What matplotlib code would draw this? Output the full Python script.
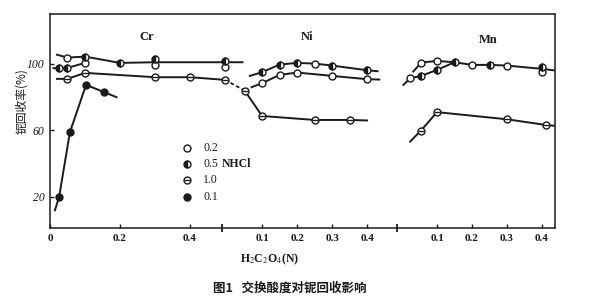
"""
图1 交换酸度对铌回收影响 — 三段拼接横轴 (Cr / Ni / Mn)。
"""

import matplotlib
matplotlib.use('Agg')
import matplotlib.pyplot as plt

plt.rcParams['font.family'] = ['Liberation Serif', 'Noto Sans CJK SC']
plt.rcParams['mathtext.fontset'] = 'stix'

INK = '#1a1a1a'

# décalage de chaque panneau sur l'axe commun
OFFSETS = {'Cr': 0.0, 'Ni': 0.506, 'Mn': 1.006}
PANELS = ['Cr', 'Ni', 'Mn']
TICK_VALUES = {'Cr': [0.0, 0.2, 0.4], 'Ni': [0.1, 0.2, 0.3, 0.4], 'Mn': [0.1, 0.2, 0.3, 0.4]}
TICK_LABELS = {'Cr': ['0', '0.2', '0.4'], 'Ni': ['0.1', '0.2', '0.3', '0.4'],
               'Mn': ['0.1', '0.2', '0.3', '0.4']}
Y_TICKS = [20, 60, 100]

# ---- courbes (tracés) ----
cr_top_x = [0.02, 0.05, 0.10, 0.20, 0.30, 0.50, 0.55]
cr_top_y = [105.5, 103.8, 104.4, 100.6, 101.0, 101.0, 101.0]
cr_low_x = [0.01, 0.026, 0.05, 0.10]
cr_low_y = [97.4, 97.6, 97.6, 100.6]
cr_10_x = [0.02, 0.05, 0.10, 0.30, 0.40, 0.50]
cr_10_y = [91.0, 91.0, 94.6, 92.0, 92.0, 90.4]
cr_01_x = [0.014, 0.026, 0.057, 0.103, 0.155, 0.19]
cr_01_y = [12.0, 20.0, 59.0, 87.4, 83.0, 80.0]

ni_top_x = [0.065, 0.10, 0.15, 0.20, 0.25, 0.30, 0.40, 0.43]
ni_top_y = [92.8, 95.0, 99.6, 100.6, 100.2, 99.0, 96.2, 95.6]
ni_02_x = [0.07, 0.10, 0.15, 0.20, 0.30, 0.40, 0.435]
ni_02_y = [86.0, 88.4, 93.4, 94.8, 92.8, 90.8, 90.6]
ni_10_x = [0.05, 0.10, 0.25, 0.35, 0.40]
ni_10_y = [84.0, 68.7, 66.3, 66.3, 66.0]

mn_top_x = [0.032, 0.055, 0.10, 0.15, 0.20, 0.25, 0.30, 0.40, 0.44]
mn_top_y = [95.4, 100.8, 101.8, 101.0, 99.4, 99.4, 99.0, 97.0, 96.0]
mn_low_x = [0.004, 0.023, 0.055, 0.10, 0.15]
mn_low_y = [87.4, 91.4, 92.8, 96.4, 101.0]
mn_10_x = [0.023, 0.053, 0.10, 0.30, 0.41, 0.435]
mn_10_y = [53.3, 59.7, 71.0, 66.7, 63.3, 62.8]

CURVES = [
    ('Cr', cr_top_x, cr_top_y), ('Cr', cr_low_x, cr_low_y),
    ('Cr', cr_10_x, cr_10_y), ('Cr', cr_01_x, cr_01_y),
    ('Ni', ni_top_x, ni_top_y), ('Ni', ni_02_x, ni_02_y), ('Ni', ni_10_x, ni_10_y),
    ('Mn', mn_top_x, mn_top_y), ('Mn', mn_low_x, mn_low_y), ('Mn', mn_10_x, mn_10_y),
]

# ---- points mesurés ----
# 0.2 (ouvert)
cr_02_px = [0.05, 0.10, 0.30, 0.50]
cr_02_py = [103.8, 100.6, 99.4, 98.0]
ni_02_px = [0.10, 0.15, 0.20, 0.25, 0.30, 0.40]
ni_02_py = [88.4, 93.4, 94.8, 100.2, 92.8, 90.8]
mn_02_px = [0.023, 0.055, 0.10, 0.20, 0.30, 0.40]
mn_02_py = [91.4, 100.8, 101.8, 99.4, 99.0, 95.4]
# 0.5 NHCl (demi-plein)
cr_05_px = [0.026, 0.05, 0.10, 0.20, 0.30, 0.50]
cr_05_py = [97.6, 97.6, 104.4, 100.6, 103.0, 101.8]
ni_05_px = [0.10, 0.15, 0.20, 0.30, 0.40]
ni_05_py = [95.0, 99.6, 100.6, 99.0, 96.2]
mn_05_px = [0.055, 0.10, 0.15, 0.25, 0.40]
mn_05_py = [92.8, 96.4, 101.0, 99.4, 98.4]
# 1.0 (cercle barré)
cr_10_px = [0.05, 0.10, 0.30, 0.40, 0.50]
cr_10_py = [91.0, 94.6, 92.0, 92.0, 90.4]
ni_10_px = [0.05, 0.10, 0.25, 0.35]
ni_10_py = [84.0, 68.7, 66.3, 66.3]
mn_10_px = [0.053, 0.10, 0.30, 0.41]
mn_10_py = [59.7, 71.0, 66.7, 63.3]
# 0.1 (plein)
cr_01_px = [0.026, 0.057, 0.103, 0.155]
cr_01_py = [20.0, 59.0, 87.4, 83.0]

SERIES = {
    'open': [('Cr', cr_02_px, cr_02_py), ('Ni', ni_02_px, ni_02_py), ('Mn', mn_02_px, mn_02_py)],
    'half': [('Cr', cr_05_px, cr_05_py), ('Ni', ni_05_px, ni_05_py), ('Mn', mn_05_px, mn_05_py)],
    'theta': [('Cr', cr_10_px, cr_10_py), ('Ni', ni_10_px, ni_10_py), ('Mn', mn_10_px, mn_10_py)],
    'full': [('Cr', cr_01_px, cr_01_py)],
}
LEGEND = [('open', '0.2'), ('half', '0.5 NHCl'), ('theta', '1.0'), ('full', '0.1')]

MS = 5


def shift(panel, xs):
    return [OFFSETS[panel] + x for x in xs]


def draw_marker(ax, kind, xs, ys, **kw):
    style = dict(linestyle='none', marker='o', markersize=MS, markeredgecolor=INK,
                 markeredgewidth=1.0, zorder=4, **kw)
    if kind == 'open':
        ax.plot(xs, ys, markerfacecolor='white', **style)
    elif kind == 'half':
        ax.plot(xs, ys, fillstyle='left', markerfacecolor=INK,
                markerfacecoloralt='white', **style)
    elif kind == 'theta':
        ax.plot(xs, ys, markerfacecolor='white', **style)
        ax.plot(xs, ys, linestyle='none', marker='_', markersize=MS,
                markeredgecolor=INK, markeredgewidth=1.0, zorder=5, **kw)
    else:
        ax.plot(xs, ys, markerfacecolor=INK, **style)


fig = plt.figure(figsize=(5.95, 3.01), dpi=100)
ax = fig.add_axes([50 / 595, 73 / 301, 505 / 595, 214 / 301])

for panel, xs, ys in CURVES:
    ax.plot(shift(panel, xs), ys, color=INK, linewidth=1.4, zorder=3)

# liaison pointillée Cr (1.0) -> Ni (1.0)
ax.plot([shift('Cr', cr_10_x)[-1], shift('Ni', ni_10_x)[0]], [cr_10_y[-1], ni_10_y[0]],
        color=INK, linewidth=1.3, linestyle=(0, (2, 1.5)), zorder=3)

for kind, groups in SERIES.items():
    for panel, xs, ys in groups:
        draw_marker(ax, kind, shift(panel, xs), ys)

ax.set_xlim(0, 1.443)
ax.set_ylim(1.35, 130)

xticks, xlabels = [], []
for p in PANELS:
    xticks += shift(p, TICK_VALUES[p])
    xlabels += TICK_LABELS[p]
ax.set_xticks(xticks)
ax.set_xticklabels(xlabels, fontsize=8, fontweight='bold')
ax.set_yticks(Y_TICKS)
ax.set_yticklabels([str(v) for v in Y_TICKS], fontsize=8.5, style='italic')
ax.tick_params(direction='in', length=3, width=1, color=INK, labelcolor=INK, pad=4)

# coupures de l'axe horizontal
for p in ['Ni', 'Mn']:
    ax.plot([OFFSETS[p] - 0.015], [1.35], marker='|', markersize=6, color=INK,
            markeredgewidth=1.3, clip_on=False, zorder=6)

for s in ax.spines.values():
    s.set_color(INK)
    s.set_linewidth(1.1)

# noms des panneaux
for p, (tx, ty) in zip(PANELS, [(0.192, 0.893), (0.509, 0.893), (0.867, 0.879)]):
    ax.text(tx, ty, p, transform=ax.transAxes, ha='center', va='center',
            fontsize=9, fontweight='bold', color=INK)

# légende dessinée à la main
for i, (kind, label) in enumerate(LEGEND):
    ly = 0.374 - i * 0.076
    draw_marker(ax, kind, [0.271], [ly], transform=ax.transAxes, clip_on=False)
    if label.endswith('NHCl'):
        ax.text(0.303, ly, '0.5', transform=ax.transAxes, va='center', fontsize=8.5, color=INK)
        ax.text(0.340, ly, 'NHCl', transform=ax.transAxes, va='center', fontsize=8.5,
                fontweight='bold', color=INK)
    else:
        ax.text(0.303, ly, label, transform=ax.transAxes, va='center', fontsize=8.5, color=INK)

fig.text(22 / 595, 1 - 101 / 301, '铌回收率(%)', rotation=90, ha='center', va='center',
         fontsize=8.5, family=['Noto Sans CJK SC', 'DejaVu Sans'], color=INK)
fig.text(270 / 595, 1 - 259 / 301, r'H$_2$C$_2$O$_4$(N)', ha='center', va='center',
         fontsize=8.5, fontweight='bold', color=INK)
fig.text(290 / 595, 1 - 288 / 301, '图1   交换酸度对铌回收影响', ha='center', va='center',
         fontsize=9, fontweight='bold', family=['Noto Sans CJK SC', 'DejaVu Sans'], color=INK)

fig.savefig('out.png', dpi=100)
plt.close(fig)
